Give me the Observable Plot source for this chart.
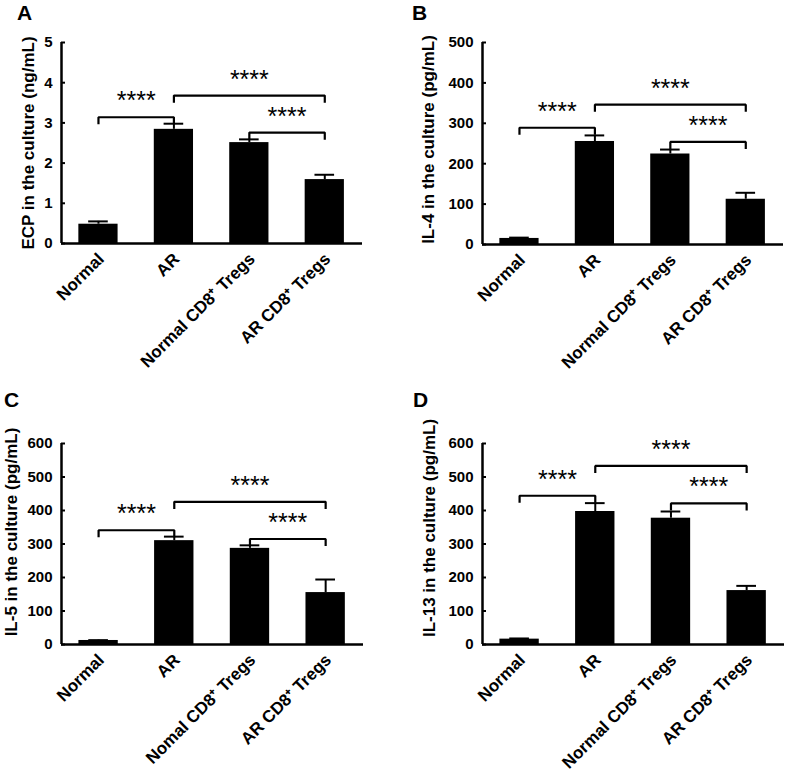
<!DOCTYPE html>
<html><head><meta charset="utf-8">
<script src="https://cdn.jsdelivr.net/npm/d3@7"></script>
<script src="https://cdn.jsdelivr.net/npm/@observablehq/plot@0.6"></script>
<style>
body{margin:0;background:#fff;}
#wrap{position:relative;width:787px;height:772px;font-family:"Liberation Sans",Arial,sans-serif;background:#fff;}
.panel{position:absolute;}
.letter{position:absolute;font-weight:bold;font-size:21px;line-height:1;color:#000;}
</style></head><body><div id="wrap"></div>
<script>
// categories
const groupsABD = ["Normal", "AR", "Normal CD8⁺ Tregs", "AR CD8⁺ Tregs"];
const groupsC = ["Normal", "AR", "Nomal CD8⁺ Tregs", "AR CD8⁺ Tregs"];
// panel A: ECP (ng/mL)
const ecpMean = [0.48, 2.84, 2.51, 1.59];
const ecpErr = [0.07, 0.14, 0.08, 0.12];
const ecpTicks = [0, 1, 2, 3, 4, 5];
// panel B: IL-4 (pg/mL)
const il4Mean = [15, 255, 224, 112];
const il4Err = [2, 15, 11, 16];
const il4Ticks = [0, 100, 200, 300, 400, 500];
// panel C: IL-5 (pg/mL)
const il5Mean = [12, 310, 287, 155];
const il5Err = [1, 12, 9, 39];
const il5Ticks = [0, 100, 200, 300, 400, 500, 600];
// panel D: IL-13 (pg/mL)
const il13Mean = [16, 397, 377, 161];
const il13Err = [2, 25, 20, 14];
const il13Ticks = [0, 100, 200, 300, 400, 500, 600];
// significance brackets (group index pairs) and their levels per panel
const bracketPairs = [[0, 1], [1, 3], [2, 3]];
const bracketLabel = "****";
const ecpBrackets = [3.14, 3.68, 2.76];
const il4Brackets = [289, 346, 254];
const il5Brackets = [341, 426, 315];
const il13Brackets = [444, 533, 421];

const FONT = '"Liberation Sans", Arial, Helvetica, sans-serif';

function panel(cfg) {
  const {groups, mean, err, ticks, levels, title, W, H, ml, mr, mt, mb, tdx, tdy} = cfg;
  const ymax = ticks[ticks.length - 1];
  const rows = groups.map((g, i) => ({i, g, m: mean[i], top: mean[i] + err[i]}));
  const legLen = ymax * 6 / (H - mt - mb);
  const br = bracketPairs.map(([a, b], k) => ({k, a, b, y: levels[k]}));
  const brPts = br.flatMap(d => [
    {k: d.k, x: d.a, y: d.y - legLen},
    {k: d.k, x: d.a, y: d.y},
    {k: d.k, x: d.b, y: d.y},
    {k: d.k, x: d.b, y: d.y - legLen}
  ]);
  const xmin = -0.49, xmax = 3.5;
  return Plot.plot({
    width: W, height: H,
    marginLeft: ml, marginRight: mr, marginTop: mt, marginBottom: mb,
    style: {fontFamily: FONT, fontWeight: "bold", fontSize: "15px", color: "black", background: "white", overflow: "visible"},
    x: {domain: [xmin, xmax]},
    y: {domain: [0, ymax]},
    marks: [
      Plot.rectY(rows, {x1: d => d.i - 0.26, x2: d => d.i + 0.26, y1: 0, y2: "m", fill: "black"}),
      Plot.ruleX(rows, {x: "i", y1: "m", y2: "top", stroke: "black", strokeWidth: 2}),
      Plot.ruleY(rows, {y: "top", x1: d => d.i - 0.13, x2: d => d.i + 0.13, stroke: "black", strokeWidth: 2}),
      Plot.line(brPts, {x: "x", y: "y", z: "k", stroke: "black", strokeWidth: 2.2, strokeLinejoin: "miter", strokeLinecap: "square"}),
      Plot.text(br, {x: d => (d.a + d.b) / 2, y: "y", text: () => bracketLabel, dy: -16, fontSize: 25, fontWeight: "normal"}),
      Plot.ruleX([xmin], {stroke: "black", strokeWidth: 2.5}),
      Plot.ruleY([0], {stroke: "black", strokeWidth: 2.5}),
      Plot.axisY(ticks, {tickSize: -4, tickPadding: 13, strokeWidth: 2, fontSize: 15, label: null, tickFormat: d => String(d)}),
      Plot.axisX([0, 1, 2, 3], {tickFormat: i => groups[i], tickSize: 0, tickPadding: 8, tickRotate: -45,
        textAnchor: "end", lineAnchor: "top", dx: -2, fontSize: 17, label: null}),
      Plot.text([title], {frameAnchor: "left", textAnchor: "middle", lineAnchor: "middle", rotate: -90, dx: tdx, dy: tdy, fontSize: 17, fontWeight: "bold"})
    ]
  });
}

const wrap = document.getElementById("wrap");
function place(node, left, top) {
  const d = document.createElement("div");
  d.className = "panel";
  d.style.left = left + "px";
  d.style.top = top + "px";
  d.appendChild(node);
  wrap.appendChild(d);
}
function letter(txt, left, top) {
  const d = document.createElement("div");
  d.className = "letter";
  d.style.left = left + "px";
  d.style.top = top + "px";
  d.textContent = txt;
  wrap.appendChild(d);
}

place(panel({groups: groupsABD, mean: ecpMean, err: ecpErr, ticks: ecpTicks, levels: ecpBrackets,
  title: "ECP in the culture (ng/mL)", W: 393, H: 386, ml: 61, mr: 31, mt: 42, mb: 143, tdx: -33, tdy: 0}), 0, 0);
place(panel({groups: groupsABD, mean: il4Mean, err: il4Err, ticks: il4Ticks, levels: il4Brackets,
  title: "IL-4 in the culture (pg/mL)", W: 394, H: 386, ml: 89, mr: 4, mt: 42, mb: 142, tdx: -54, tdy: -4}), 393, 0);
place(panel({groups: groupsC, mean: il5Mean, err: il5Err, ticks: il5Ticks, levels: il5Brackets,
  title: "IL-5 in the culture (pg/mL)", W: 393, H: 386, ml: 61, mr: 30, mt: 57, mb: 128, tdx: -50, tdy: -12}), 0, 386);
place(panel({groups: groupsABD, mean: il13Mean, err: il13Err, ticks: il13Ticks, levels: il13Brackets,
  title: "IL-13 in the culture (pg/mL)", W: 394, H: 386, ml: 89, mr: 3, mt: 57, mb: 128, tdx: -53, tdy: -16}), 393, 386);

letter("A", 17, 2);
letter("B", 412, 2);
letter("C", 4, 389);
letter("D", 413, 389);
</script>
</body></html>
